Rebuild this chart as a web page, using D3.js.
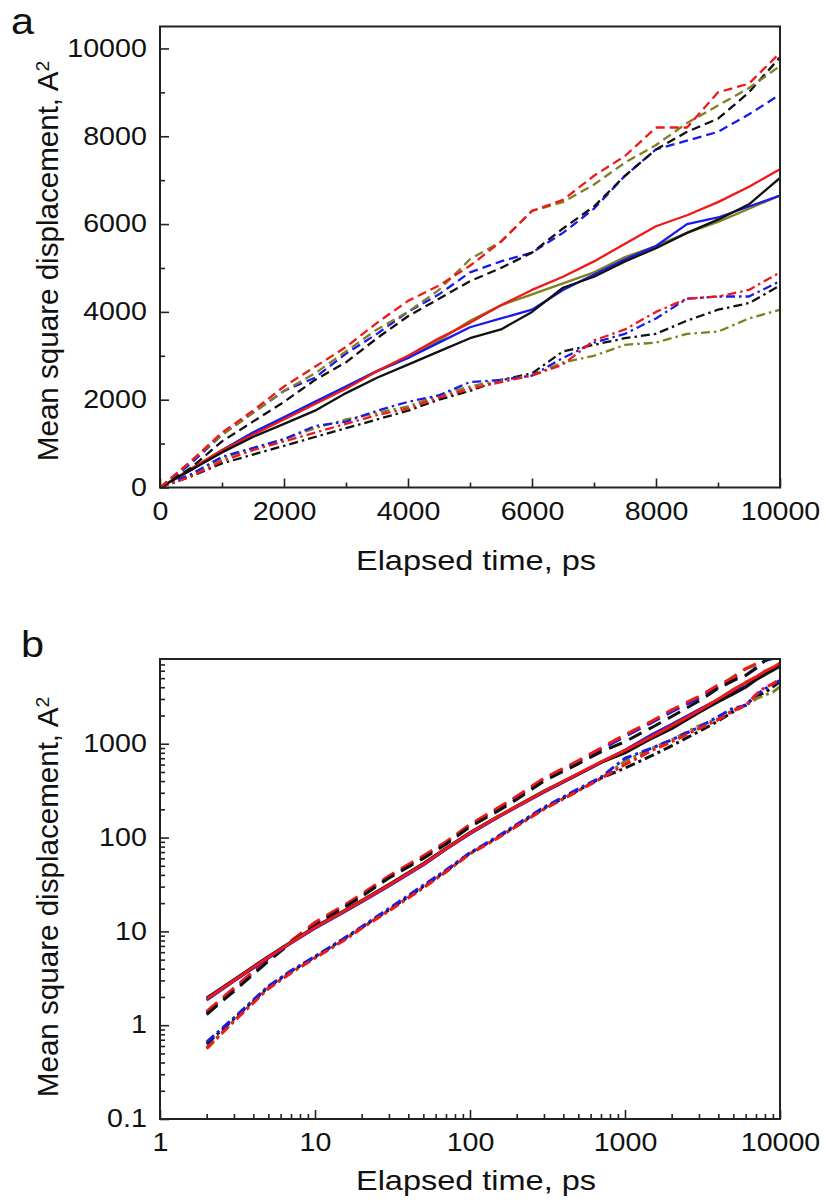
<!DOCTYPE html>
<html>
<head>
<meta charset="utf-8">
<script src="https://d3js.org/d3.v7.min.js"></script>
<style>
  body { margin: 0; background: #fff; }
  text { font-family: "Liberation Sans", Arial, sans-serif; fill: #111; }
</style>
</head>
<body>
<div id="chart"></div>
<script>

// ---- panel a: linear axes, values every 500 ps
const timeA = [0,500,1000,1500,2000,2500,3000,3500,4000,4500,5000,5500,6000,6500,7000,7500,8000,8500,9000,9500,10000]

const redDashA   = [0,600,1250,1750,2300,2750,3200,3750,4250,4600,5050,5600,6300,6550,7100,7550,8200,8200,9000,9200,9900]
const blueDashA  = [0,550,1200,1700,2200,2500,3050,3500,4000,4400,4900,5150,5350,5800,6350,7100,7700,7900,8100,8500,8950]
const blackDashA = [0,450,1050,1500,1950,2450,2850,3400,3900,4300,4700,5000,5350,5900,6400,7100,7700,8100,8400,9000,9800]
const oliveDashA = [0,600,1200,1700,2200,2600,3100,3600,4000,4500,5200,5600,6300,6500,6900,7400,7800,8300,8700,9100,9600]

const redSolidA   = [0,430,850,1200,1550,1900,2250,2650,3000,3400,3750,4150,4500,4800,5150,5550,5950,6200,6500,6850,7250]
const blueSolidA  = [0,400,850,1250,1600,1950,2300,2650,2950,3300,3650,3850,4050,4500,4850,5200,5500,6000,6150,6400,6650]
const blackSolidA = [0,400,800,1150,1450,1750,2150,2500,2800,3100,3400,3600,4000,4550,4800,5150,5450,5800,6100,6450,7050]
const oliveSolidA = [0,420,850,1250,1600,1950,2300,2650,2950,3350,3800,4150,4400,4650,4900,5250,5500,5800,6050,6350,6650]

const redDashDotA   = [0,250,600,850,1050,1250,1450,1650,1800,2050,2250,2400,2550,2800,3350,3600,4000,4300,4350,4500,4900]
const blueDashDotA  = [0,300,700,900,1100,1400,1500,1750,1950,2100,2400,2450,2550,2950,3300,3500,3850,4300,4350,4350,4700]
const blackDashDotA = [0,250,550,750,950,1150,1350,1550,1750,2000,2200,2450,2600,3100,3250,3400,3500,3800,4050,4200,4600]
const oliveDashDotA = [0,300,650,900,1100,1350,1550,1700,1850,2100,2300,2450,2550,2850,3000,3250,3300,3500,3550,3850,4050]

const xTicksA = [0,2000,4000,6000,8000,10000]
const yTicksA = [0,2000,4000,6000,8000,10000]

// ---- panel b: log-log axes
const timeB = [2,3,5,7,10,15,20,30,50,70,100,150,200,300,500,700,1000,1500,2000,3000,4000,5000,6000,7000,8000,9000,10000]

const redDashB   = [1.4,2.5,5.1,7.9,12.5,18.5,25,39,64,90,138,205,275,430,660,900,1250,1750,2300,3200,4250,5050,6300,7100,8200,9000,9900]
const blueDashB  = [1.35,2.4,5.0,7.7,12,18,24,38,62,88,135,200,268,420,640,870,1200,1700,2200,3050,4000,4900,5350,6350,7700,8100,8950]
const blackDashB = [1.3,2.3,4.8,7.5,11.5,17.5,23.5,37,60,85,130,190,255,400,610,820,1050,1500,1950,2850,3900,4700,5350,6400,7700,8400,9800]
const oliveDashB = [1.38,2.45,5.0,7.8,12.2,18.2,24.5,38.5,63,89,136,202,270,425,650,880,1200,1700,2200,3100,4000,5200,6300,6900,7800,8700,9600]

const redSolidB   = [1.9,3.0,5.3,7.6,11,16,21,31,52,76,112,165,215,310,480,640,850,1200,1550,2250,3000,3750,4500,5150,5950,6500,7250]
const blueSolidB  = [1.85,2.95,5.2,7.5,10.8,15.7,20.6,30.5,51,75,110,163,212,305,470,630,850,1250,1600,2300,2950,3650,4050,4850,5500,6150,6650]
const blackSolidB = [1.95,3.05,5.4,7.7,11.2,16.2,21.3,31.5,53,77,113,166,216,312,478,635,800,1150,1450,2150,2800,3400,4000,4800,5450,6100,7050]
const oliveSolidB = [1.88,2.98,5.25,7.55,10.9,15.8,20.8,30.8,51.5,75.5,111,164,213,308,475,632,850,1250,1600,2300,2950,3800,4400,4900,5500,6050,6650]

const redDashDotB   = [0.56,1.1,2.45,3.6,5.2,7.8,10.8,16.5,29,43,67,98,132,200,315,425,600,850,1050,1450,1800,2250,2550,3350,4000,4350,4900]
const blueDashDotB  = [0.66,1.2,2.6,3.8,5.4,8.2,11.2,17.5,31,45,69,102,138,210,330,440,700,900,1100,1500,1950,2400,2550,3300,3850,4350,4700]
const blackDashDotB = [0.63,1.17,2.55,3.75,5.35,8.1,11,17,30,44,68,100,135,205,320,430,550,750,950,1350,1750,2200,2600,3250,3500,4050,4600]
const oliveDashDotB = [0.58,1.12,2.5,3.65,5.25,7.9,10.9,16.8,29.5,43.5,67.5,99,133,202,318,428,650,900,1100,1550,1850,2300,2550,3000,3300,3550,4050]

const xTicksB = [1,10,100,1000,10000]
const yTicksB = [0.1,1,10,100,1000]

// colours and line styles
const BLACK = "#111", RED = "#f01818", BLUE = "#1a1aee", OLIVE = "#808020"

const seriesA = [
  [blackDashDotA, BLACK, "dashdot"], [oliveDashDotA, OLIVE, "dashdot"], [blueDashDotA, BLUE, "dashdot"], [redDashDotA, RED, "dashdot"],
  [oliveSolidA, OLIVE, "solid"], [blueSolidA, BLUE, "solid"], [redSolidA, RED, "solid"], [blackSolidA, BLACK, "solid"],
  [blueDashA, BLUE, "dash"], [blackDashA, BLACK, "dash"], [oliveDashA, OLIVE, "dash"], [redDashA, RED, "dash"]
]
const seriesB = [
  [oliveDashDotB, OLIVE, "dashdot"], [blackDashDotB, BLACK, "dashdot"], [blueDashDotB, BLUE, "dashdot"], [redDashDotB, RED, "dashdot"],
  [oliveDashB, OLIVE, "dash"], [blueDashB, BLUE, "dash"], [redDashB, RED, "dash"], [blackDashB, BLACK, "dash"],
  [oliveSolidB, OLIVE, "solid"], [blueSolidB, BLUE, "solid"], [blackSolidB, BLACK, "solid"], [redSolidB, RED, "solid"]
]

const width = 826
const height = 1200
const STRETCH = 1.1   // glyphs in the figure are a bit wider than Arial

const svg = d3.select("#chart")
  .append("svg")
    .attr("width", width)
    .attr("height", height)

function drawPanel(opt) {
  const x = opt.x, y = opt.y
  const [x0, x1] = x.range()
  const [yb, yt] = y.range()
  const g = svg.append("g")

  // clip to the frame
  g.append("clipPath").attr("id", opt.id)
    .append("rect").attr("x", x0).attr("y", yt).attr("width", x1 - x0).attr("height", yb - yt)

  // minor ticks
  g.append("g").attr("transform", `translate(0,${yb})`)
    .call(d3.axisBottom(x).tickValues(opt.xMinor).tickSize(-5).tickFormat(""))
  g.append("g").attr("transform", `translate(${x0},0)`)
    .call(d3.axisLeft(y).tickValues(opt.yMinor).tickSize(-5).tickFormat(""))

  // major ticks with labels
  const xa = g.append("g").attr("transform", `translate(0,${yb})`)
    .call(d3.axisBottom(x).tickValues(opt.xTicks).tickSize(-9).tickPadding(14).tickFormat(d => String(d)))
  const ya = g.append("g").attr("transform", `translate(${x0},0)`)
    .call(d3.axisLeft(y).tickValues(opt.yTicks).tickSize(-9).tickPadding(12).tickFormat(d => String(d)))

  g.selectAll(".domain").remove()
  g.selectAll(".tick line").attr("stroke", "#222").attr("stroke-width", 1.6)
  ;[xa, ya].forEach(a => a.selectAll("text")
    .attr("fill", "#1a1a1a")
    .style("font-family", '"Liberation Sans", Arial, sans-serif')
    .style("font-size", "26px")
    .attr("transform", `scale(${STRETCH},1)`))
  ya.selectAll("text").attr("dy", "0.30em")

  // curves
  const line = d3.line().x((d, i) => x(opt.time[i])).y(d => y(d))
  const dashes = { solid: null, dash: opt.dash, dashdot: opt.dashdot }
  g.append("g").attr("clip-path", `url(#${opt.id})`)
    .selectAll("path")
    .data(opt.series)
    .join("path")
      .attr("d", d => line(d[0]))
      .attr("fill", "none")
      .attr("stroke", d => d[1])
      .attr("stroke-width", opt.lw)
      .attr("stroke-linejoin", "round")
      .attr("stroke-dasharray", d => dashes[d[2]])

  // frame
  g.append("rect")
    .attr("x", x0).attr("y", yt).attr("width", x1 - x0).attr("height", yb - yt)
    .attr("fill", "none").attr("stroke", "#222").attr("stroke-width", 2)

  // axis titles
  g.append("text")
    .attr("transform", `translate(476,${yb + opt.titleGap}) scale(1.16,1)`)
    .attr("text-anchor", "middle")
    .attr("fill", "#1a1a1a")
    .style("font-size", "28px")
    .text("Elapsed time, ps")

  const yt2 = g.append("text")
    .attr("transform", `translate(58,${(yb + yt) / 2 + opt.yTitleShift}) rotate(-90) scale(1.02,1)`)
    .attr("text-anchor", "middle")
    .attr("fill", "#1a1a1a")
    .style("font-size", "29px")
  yt2.append("tspan").text("Mean square displacement, A")
  yt2.append("tspan").attr("dy", "-0.45em").style("font-size", "19px").text("2")

  // panel letter
  g.append("text")
    .attr("transform", `translate(${opt.lx},${opt.ly}) scale(1.12,1)`)
    .style("font-size", "37px")
    .text(opt.letter)
}

// panel a
const xA = d3.scaleLinear().domain([0, 10000]).range([160, 780])
const yA = d3.scaleLinear().domain([0, 10500]).range([487.5, 26.5])
drawPanel({
  id: "clipA", x: xA, y: yA, time: timeA, series: seriesA,
  xTicks: xTicksA, yTicks: yTicksA,
  xMinor: [1000,3000,5000,7000,9000], yMinor: [1000,3000,5000,7000,9000],
  dash: "9,5", dashdot: "9,4,2.5,4", lw: 2.3,
  titleGap: 82, yTitleShift: 4,
  letter: "a", lx: 11, ly: 34
})

// panel b
const xB = d3.scaleLog().domain([1, 10000]).range([160, 780])
const yB = d3.scaleLog().domain([0.1, 8000]).range([1119, 659])
const minorLog = (lo, hi) => {
  const out = []
  for (let p = Math.floor(Math.log10(lo)); p <= Math.ceil(Math.log10(hi)); p++)
    for (let m = 2; m <= 9; m++) {
      const v = m * Math.pow(10, p)
      if (v > lo && v < hi) out.push(v)
    }
  return out
}
drawPanel({
  id: "clipB", x: xB, y: yB, time: timeB, series: seriesB,
  xTicks: xTicksB, yTicks: yTicksB,
  xMinor: minorLog(1, 10000), yMinor: minorLog(0.1, 8000),
  dash: "14,8", dashdot: "10,4,3,4", lw: 3,
  titleGap: 71, yTitleShift: 8,
  letter: "b", lx: 21, ly: 657
})

</script>
</body>
</html>
